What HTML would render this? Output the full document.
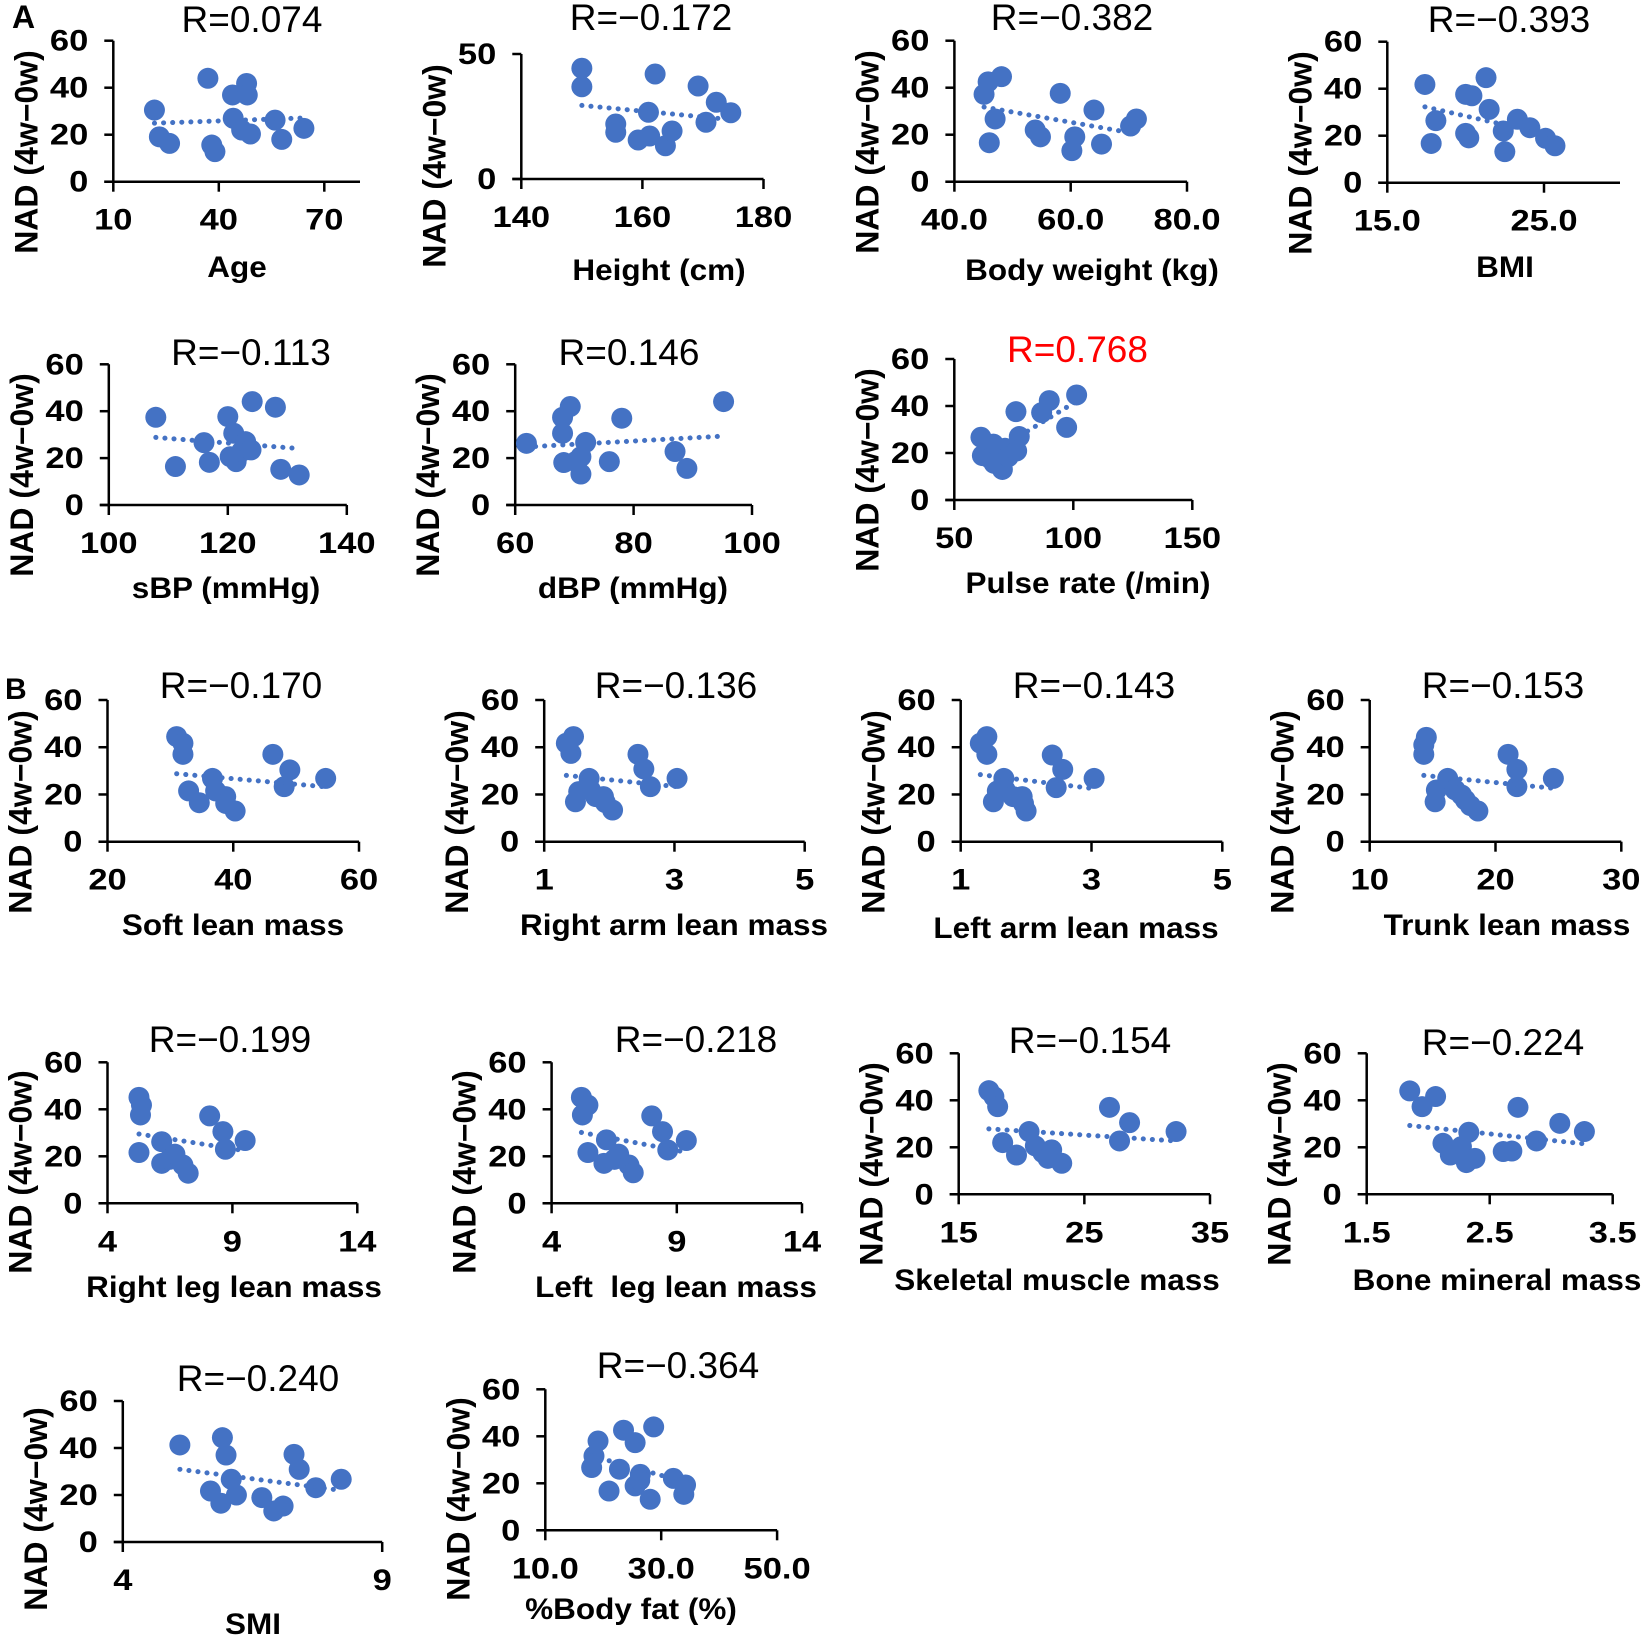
<!DOCTYPE html>
<html><head><meta charset="utf-8"><style>
html,body{margin:0;padding:0;background:#fff;}
svg{display:block;}
</style></head><body>
<svg id="fig" xmlns="http://www.w3.org/2000/svg" width="1650" height="1641" viewBox="0 0 1650 1641">
<rect width="1650" height="1641" fill="#fff"/>
<text x="12" y="28" font-family="Liberation Sans, sans-serif" font-weight="bold" font-size="32">A</text>
<text x="5" y="699" font-family="Liberation Sans, sans-serif" font-weight="bold" font-size="30">B</text>
</svg>
<script>
// ---- data ----
const ageX=[21.7,23.1,26.0,36.9,38.0,38.9,43.9,44.1,47.9,48.1,46.5,49.0,56.0,57.9,64.2];
const ageY=[30.5,19.1,16.3,44,15.6,12.8,36.9,27,41.8,36.9,22,20.3,26.2,18,22.7];
const heightX=[150.0,150.0,162.1,169.2,172.2,174.6,170.5,161.0,155.6,155.6,159.3,161.2,163.8,164.9];
const heightY=[44.3,36.9,42,37.2,30.7,26.5,22.7,26.7,22,18.7,15.6,17.2,13.3,19.2];
const weightX=[45.1,45.8,48.1,47.0,46.0,58.2,64.0,53.9,54.8,60.7,60.2,65.3,70.3,71.3];
const weightY=[37.2,42.5,44.7,26.7,16.6,37.6,30.5,22,19.1,19.1,13.2,16,23.7,26.7];
const bmiX=[17.4,18.1,17.8,20.0,20.4,20.0,20.2,21.3,21.5,22.4,22.5,23.3,24.1,25.1,25.7];
const bmiY=[41.8,26.4,16.7,37.6,37,21,19.1,44.7,31.2,22,13.2,27,23.4,18.9,15.7];
const sbpX=[107.9,111.2,116.0,116.9,120.0,121.0,120.4,121.4,122.3,123.0,123.9,124.1,128.0,128.9,132.0];
const sbpY=[37.4,16.4,26.6,18.2,37.7,30.6,20.6,18.5,22.8,27,23.5,44.1,41.7,15.2,12.8];
const dbpX=[61.9,68.0,69.3,68.0,68.2,70.2,71.1,71.1,71.9,75.9,78.0,87.0,89.0,95.2];
const dbpY=[26.3,37.4,42,30.6,18.1,18.5,20.6,13.2,26.7,18.5,37,22.8,15.6,44.1];
const pulseX=[61.2,61.8,66.4,65.0,69.2,66.7,70.2,71.3,72.7,75.9,77.3,76.2,86.7,89.9,97.2,101.4];
const pulseY=[26.7,18.9,23.8,17.7,20.6,15.6,13,22,18.4,37.6,27,20.9,37.2,42.3,30.9,44.7];
const softX=[31.0,32.0,32.0,32.9,34.6,36.7,37.2,38.8,38.8,40.3,46.3,49.0,48.1,54.7];
const softY=[44.5,41.7,37,21.5,16.5,26.8,21.5,19.1,16.2,13,37,30.4,23.3,26.8];
const rarmX=[1.34,1.45,1.41,1.48,1.53,1.69,1.71,1.79,1.91,1.94,2.05,2.44,2.53,2.63,3.04];
const rarmY=[41.7,44.5,37.4,16.9,21.2,26.8,21.9,19.1,19.1,16.5,13.4,37,30.8,23.3,26.8];
const larmX=[1.30,1.40,1.40,1.50,1.56,1.66,1.68,1.80,1.94,1.96,2.0,2.40,2.56,2.46,3.04];
const larmY=[41.7,44.5,37,16.9,21.5,26.8,21.9,19.1,19.1,16.2,13,36.7,30.6,22.9,26.8];
const trunkX=[14.5,14.3,14.3,15.3,15.2,16.2,16.8,17.3,17.6,18.0,18.6,21.0,21.7,21.7,24.6];
const trunkY=[44.2,41,37,21.9,16.9,26.8,21.9,19.8,17.7,15.3,13,37,30.6,23.3,26.8];
const rlegX=[5.26,5.36,5.32,5.26,6.17,6.17,6.49,6.70,7.02,7.23,8.09,8.62,8.72,9.51];
const rlegY=[45.1,41.8,37.6,21.6,26.2,17,18.7,20.9,16.3,12.8,37.2,30.5,23,26.7];
const llegX=[5.19,5.45,5.23,5.45,6.19,6.09,6.51,6.68,7.09,7.26,8.0,8.43,8.64,9.38];
const llegY=[45.1,41.8,37.6,21.6,27,17,18.7,20.9,16.3,13,37.2,30.5,22.7,26.7];
const smmX=[17.4,17.8,18.1,18.5,19.6,20.6,21.1,21.7,22.4,22.1,23.2,27.0,28.6,27.8,32.3];
const smmY=[44.1,41.6,37.3,22,16.7,26.7,20.6,17.7,18.9,15.3,13.2,37,30.5,22.7,26.7];
const boneX=[1.85,1.95,2.06,2.12,2.18,2.27,2.31,2.38,2.33,2.61,2.68,2.73,2.88,3.07,3.27];
const boneY=[44,37.3,41.6,21.7,16.7,20.3,13.5,15.3,26.4,18.2,18.4,37,22.7,30.2,26.7];
const smiX=[5.10,5.92,5.99,6.09,5.69,5.89,6.19,6.68,6.91,7.09,7.30,7.40,7.72,8.21];
const smiY=[41.3,44.4,37,26.7,21.7,16.5,20,18.9,13.2,15.3,37.3,30.9,23.1,26.7];
const fatX=[18.0,18.4,19.1,21.0,22.8,23.5,25.5,25.5,26.4,26.3,28.1,28.7,32.1,34.2,33.9];
const fatY=[26.7,31.6,38,16.7,26,42.6,37.3,18.9,23.8,21.3,13.2,44,22.1,19.3,15.3];

// tick arrays
const yTicks60=[0,20,40,60];
const yTicks50=[0,50];
const ageTicks=[10,40,70];
const heightTicks=[140,160,180];
const weightTicks=[40,60,80];
const bmiTicks=[15,25];
const sbpTicks=[100,120,140];
const dbpTicks=[60,80,100];
const pulseTicks=[50,100,150];
const softTicks=[20,40,60];
const armTicks=[1,3,5];
const trunkTicks=[10,20,30];
const legTicks=[4,9,14];
const smmTicks=[15,25,35];
const boneTicks=[1.5,2.5,3.5];
const smiTicks=[4,9];
const fatTicks=[10,30,50];

const titles=["R=0.074","R=−0.172","R=−0.382","R=−0.393","R=−0.113","R=0.146","R=0.768","R=−0.170","R=−0.136","R=−0.143","R=−0.153","R=−0.199","R=−0.218","R=−0.154","R=−0.224","R=−0.240","R=−0.364"];
const xLabels=["Age","Height (cm)","Body weight (kg)","BMI","sBP (mmHg)","dBP (mmHg)","Pulse rate (/min)","Soft lean mass","Right arm lean mass","Left arm lean mass","Trunk lean mass","Right leg lean mass","Left\u00a0 leg lean mass","Skeletal muscle mass","Bone mineral mass","SMI","%Body fat (%)"];

// layout (pixels): ax, lastTickPx, endPx, y0, yTop, titleX, titleY, xlX, xlY, ylY
const panels=[
 {n:"age",xs:ageX,ys:ageY,xt:ageTicks,yt:yTicks60,dec:0,L:[113.3,324.3,360,181.7,40.7,252,32,237,277,152]},
 {n:"height",xs:heightX,ys:heightY,xt:heightTicks,yt:yTicks50,dec:0,L:[521.3,763.5,763.5,179,54,651,30,659,280,166]},
 {n:"body-weight",xs:weightX,ys:weightY,xt:weightTicks,yt:yTicks60,dec:1,L:[954.4,1187,1187,181.7,40.7,1072,30,1092,280,152]},
 {n:"bmi",xs:bmiX,ys:bmiY,xt:bmiTicks,yt:yTicks60,dec:1,L:[1387.3,1544,1620,182.7,41.7,1509,32,1505,277,153]},
 {n:"sbp",xs:sbpX,ys:sbpY,xt:sbpTicks,yt:yTicks60,dec:0,L:[108.8,346.8,346.8,505,364.3,251,365,226,598,475]},
 {n:"dbp",xs:dbpX,ys:dbpY,xt:dbpTicks,yt:yTicks60,dec:0,L:[515.2,752,752,505,364.3,629,365,633,598,475]},
 {n:"pulse-rate",xs:pulseX,ys:pulseY,xt:pulseTicks,yt:yTicks60,dec:0,L:[954.3,1192.3,1192.3,500,359,1077.5,362,1088,593,470],red:true},
 {n:"soft-lean-mass",xs:softX,ys:softY,xt:softTicks,yt:yTicks60,dec:0,L:[107.5,359,359,841.7,700,241,698,233,935,812]},
 {n:"right-arm-lean-mass",xs:rarmX,ys:rarmY,xt:armTicks,yt:yTicks60,dec:0,L:[544.2,804.7,804.7,841.7,700,676,698,674,935,812]},
 {n:"left-arm-lean-mass",xs:larmX,ys:larmY,xt:armTicks,yt:yTicks60,dec:0,L:[960.7,1222.3,1222.3,841.7,700,1094,698,1076,938,812]},
 {n:"trunk-lean-mass",xs:trunkX,ys:trunkY,xt:trunkTicks,yt:yTicks60,dec:0,L:[1369.7,1621.3,1621.3,841.7,700,1503,698,1507,935,812]},
 {n:"right-leg-lean-mass",xs:rlegX,ys:rlegY,xt:legTicks,yt:yTicks60,dec:0,L:[107.5,357.3,357.3,1203.3,1062.3,230,1052,234,1297,1172]},
 {n:"left-leg-lean-mass",xs:llegX,ys:llegY,xt:legTicks,yt:yTicks60,dec:0,L:[551.6,802,802,1203.3,1062.3,696,1052,676,1297,1172]},
 {n:"skeletal-muscle-mass",xs:smmX,ys:smmY,xt:smmTicks,yt:yTicks60,dec:0,L:[958.7,1210,1210,1194.3,1053.3,1090,1053,1057,1290,1164]},
 {n:"bone-mineral-mass",xs:boneX,ys:boneY,xt:boneTicks,yt:yTicks60,dec:1,L:[1366.7,1612.7,1612.7,1194.3,1053.3,1503,1055,1497,1290,1164]},
 {n:"smi",xs:smiX,ys:smiY,xt:smiTicks,yt:yTicks60,dec:0,L:[122.8,382.2,382.2,1542,1401,258,1391,253,1634,1509]},
 {n:"body-fat",xs:fatX,ys:fatY,xt:fatTicks,yt:yTicks60,dec:1,L:[545.3,777.1,777.1,1530.3,1389.3,678,1378,631,1619,1499]}
];

const NS="http://www.w3.org/2000/svg";
const svg=document.getElementById('fig');
const BLUE="#4472C4";
function mk(tag,attrs,parent){const e=document.createElementNS(NS,tag);for(const k in attrs)e.setAttribute(k,attrs[k]);(parent||svg).appendChild(e);return e;}

panels.forEach((p,i)=>{
  const [ax,lastPx,endPx,y0,yTop,tx,ty,xlx,xly,yly]=p.L;
  const g=mk('g',{});
  
  
  const x0v=p.xt[0], x1v=p.xt[p.xt.length-1];
  const sx=v=>ax+(v-x0v)*(lastPx-ax)/(x1v-x0v);
  const y1v=p.yt[p.yt.length-1];
  const sy=v=>y0-(v/y1v)*(y0-yTop);
  const ya=mk('line',{x1:ax,y1:yTop,x2:ax,y2:y0,stroke:'#000','stroke-width':2.5},g);
  
  
  const xa=mk('line',{x1:ax-9,y1:y0,x2:endPx,y2:y0,stroke:'#000','stroke-width':2.5},g);
  
  
  p.yt.forEach(v=>{
    const y=sy(v);
    mk('line',{x1:ax-9,y1:y,x2:ax,y2:y,stroke:'#000','stroke-width':2.5},g);
    const t=mk('text',{transform:`translate(${ax-25},${y+10}) scale(1.15,1)`,'text-anchor':'end','font-family':'Liberation Sans, sans-serif','font-weight':'bold','font-size':30},g);
    t.textContent=String(v);
    
    
  });
  p.xt.forEach(v=>{
    const x=sx(v);
    mk('line',{x1:x,y1:y0,x2:x,y2:y0+10,stroke:'#000','stroke-width':2.5},g);
    const t=mk('text',{transform:`translate(${x},${y0+48}) scale(1.15,1)`,'text-anchor':'middle','font-family':'Liberation Sans, sans-serif','font-weight':'bold','font-size':30},g);
    t.textContent=v.toFixed(p.dec);
    
    
  });
  p.xs.forEach((xv,j)=>{
    const c=mk('circle',{cx:sx(xv),cy:sy(p.ys[j]),r:10.5,fill:BLUE},g);
    
    
  });
  const n=p.xs.length;let mx=0,my=0;p.xs.forEach((v,j)=>{mx+=v;my+=p.ys[j];});mx/=n;my/=n;
  let sxy=0,sxx=0;p.xs.forEach((v,j)=>{sxy+=(v-mx)*(p.ys[j]-my);sxx+=(v-mx)*(v-mx);});
  const b=sxy/sxx,a=my-b*mx;
  const xmin=Math.min(...p.xs),xmax=Math.max(...p.xs);
  const tl=mk('line',{x1:sx(xmin),y1:sy(a+b*xmin),x2:sx(xmax),y2:sy(a+b*xmax),stroke:BLUE,'stroke-width':5,'stroke-dasharray':'0.1 9','stroke-linecap':'round'},g);
  
  
  const tt=mk('text',{x:tx,y:ty,'text-anchor':'middle','font-family':'Liberation Sans, sans-serif','font-size':37,fill:p.red?'#FF0000':'#000'},g);
  tt.textContent=titles[i];
  
  
  const xl=mk('text',{transform:`translate(${xlx},${xly}) scale(1.05,1)`,'text-anchor':'middle','font-family':'Liberation Sans, sans-serif','font-weight':'bold','font-size':30},g);
  xl.textContent=xLabels[i];
  
  
  const yl=mk('text',{transform:`translate(${ax-76},${yly}) rotate(-90)`,'text-anchor':'middle','font-family':'Liberation Sans, sans-serif','font-weight':'bold','font-size':32},g);
  yl.textContent="NAD (4w−0w)";
  
  
});
</script>
</body></html>
